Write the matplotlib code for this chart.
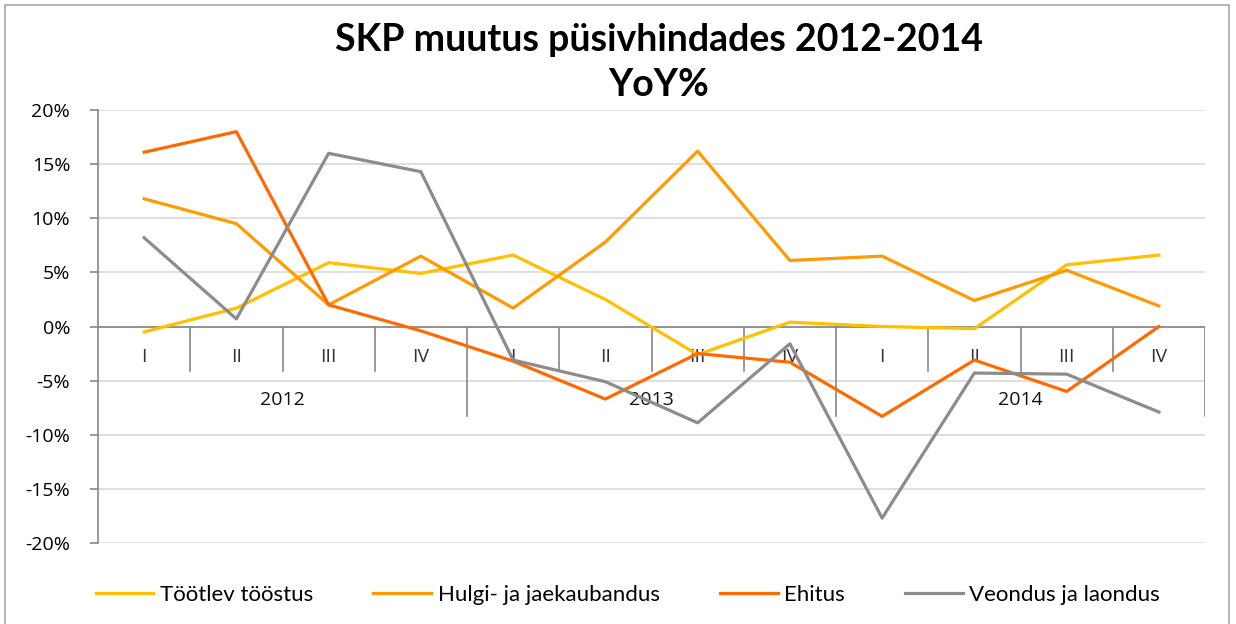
import matplotlib.pyplot as plt
from matplotlib.patches import Rectangle

# andmed (loetud pildilt, %)
years = ['2012', '2013', '2014']
quarters = ['I', 'II', 'III', 'IV']

tootlev = [-0.5, 1.7, 5.9, 4.9, 6.6, 2.5, -2.6, 0.4, 0.0, -0.2, 5.7, 6.6]
hulgi = [11.8, 9.5, 2.0, 6.5, 1.7, 7.8, 16.2, 6.1, 6.5, 2.4, 5.2, 1.9]
ehitus = [16.1, 18.0, 2.0, -0.4, -3.2, -6.7, -2.5, -3.3, -8.3, -3.1, -6.0, 0.0]
veondus = [8.2, 0.7, 16.0, 14.3, -3.1, -5.1, -8.9, -1.6, -17.7, -4.3, -4.4, -7.9]

names = ['Töötlev tööstus', 'Hulgi- ja jaekaubandus', 'Ehitus', 'Veondus ja laondus']
colors = ['#FFC000', '#FF9A00', '#FF6A00', '#8C8C8C']

plt.rcParams['font.family'] = ['Lato', 'DejaVu Sans']

fig = plt.figure(figsize=(12.36, 6.24), dpi=100)
ax = fig.add_axes([98 / 1236, 81 / 624, 1107 / 1236, 433 / 624])

# raam ümber kogu joonise
fig.patches.append(Rectangle((5 / 1236, -0.05), 1224 / 1236, 1.0 - 5 / 624 + 0.05,
                             transform=fig.transFigure, fill=False,
                             edgecolor='#A6A6A6', linewidth=1.2))

x = list(range(len(tootlev)))
for vals, name, col in zip([tootlev, hulgi, ehitus, veondus], names, colors):
    ax.plot(x, vals, color=col, linewidth=2.3, label=name, zorder=5)

ax.set_xlim(-0.5, 11.5)
ax.set_ylim(-20, 20)
ax.set_yticks(range(-20, 21, 5))
ax.set_yticklabels([f'{v}%' for v in range(-20, 21, 5)], fontsize=14, family=['Open Sans', 'DejaVu Sans'])
ax.yaxis.grid(True, color='#D9D9D9', linewidth=1.2)
ax.set_axisbelow(True)
ax.set_xticks([])

for s in ['top', 'right', 'bottom']:
    ax.spines[s].set_visible(False)
ax.spines['left'].set_color('#868686')
ax.spines['left'].set_linewidth(1.2)
ax.tick_params(axis='y', length=6, color='#868686', width=1.2, pad=14)

# kategooriatelg y=0 juures
ax.axhline(0, color='#868686', linewidth=1.2, zorder=3)
for k in range(1, 13):
    xb = k - 0.5
    if k % 4 == 0:
        ax.plot([xb, xb], [0, -8.3], color='#868686', linewidth=1.2, zorder=3)
    else:
        ax.plot([xb, xb], [0, -4.15], color='#868686', linewidth=1.2, zorder=3)

for i in x:
    ax.text(i, -2.8, quarters[i % 4], ha='center', va='center', fontsize=14,
            color='#333333', family=['Open Sans', 'DejaVu Sans'], zorder=4)
for j, yr in enumerate(years):
    ax.text(4 * j + 1.5, -6.8, yr, ha='center', va='center', fontsize=14,
            color='#111111', family=['Open Sans', 'DejaVu Sans'], zorder=4)

fig.text(0.533, 0.936, 'SKP muutus püsivhindades 2012-2014', ha='center', va='center',
         fontsize=27, fontweight='bold')
fig.text(0.533, 0.864, 'YoY%', ha='center', va='center', fontsize=27, fontweight='bold')

fig.legend(loc='center', bbox_to_anchor=(0.508, 0.047), ncol=4, frameon=False,
           fontsize=16, handlelength=2.6, handletextpad=0.3, columnspacing=2.7)

fig.savefig('out.png', dpi=100)
